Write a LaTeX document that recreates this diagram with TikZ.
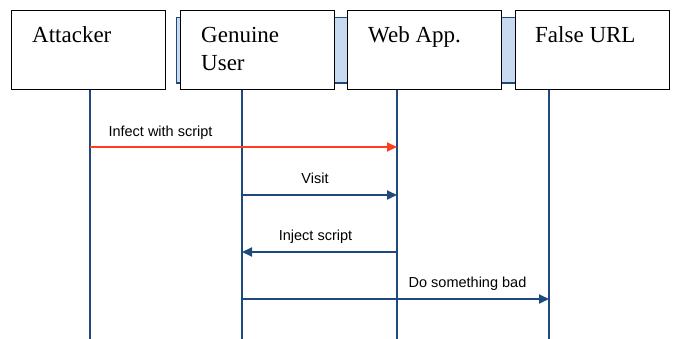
\documentclass[tikz,border=0pt]{standalone}
\usepackage{fontspec}
\setmainfont{Liberation Serif}
\newfontfamily\lblfont{Liberation Sans}
\usetikzlibrary{arrows.meta}
\definecolor{navy}{RGB}{31,73,125}
\definecolor{bandfill}{RGB}{200,218,240}
\definecolor{msgred}{RGB}{255,60,30}
\tikzset{
  actorbox/.style={draw=black, line width=1.4pt, fill=white, minimum width=154pt, minimum height=79pt, inner sep=0pt, anchor=north west},
  actortext/.style={font=\fontsize{23}{28}\selectfont, anchor=base west, inner sep=0pt, align=left},
  lifeline/.style={draw=navy, line width=2pt},
  msg/.style={draw=navy, line width=1.8pt, -{Triangle[length=10pt,width=9pt]}},
  msgr/.style={draw=msgred, line width=1.8pt, -{Triangle[length=10pt,width=9pt]}},
  msglabel/.style={font=\lblfont\fontsize{14.5}{16}\selectfont, anchor=base, inner sep=0pt}
}
\begin{document}
\begin{tikzpicture}[x=1pt,y=-1pt]
\useasboundingbox (0,0) rectangle (673,339);
% background band
\draw[fill=bandfill, draw=navy, line width=1.5pt] (176.5,17.5) rectangle (640,83);
% lifelines
\coordinate (la) at (90,339);
\coordinate (lu) at (242,339);
\coordinate (lw) at (397,339);
\coordinate (lf) at (549,339);
% boxes
\node[actorbox] (att) at (11,10) {};
\node[actorbox] (usr) at (180,10) {};
\node[actorbox] (web) at (347,10) {};
\node[actorbox] (url) at (515,10) {};
\draw[lifeline] (att.south -| la) -- (la);
\draw[lifeline] (usr.south -| lu) -- (lu);
\draw[lifeline] (web.south -| lw) -- (lw);
\draw[lifeline] (url.south -| lf) -- (lf);
\node[actortext] (attT) at (32,43) {Attacker};
\node[actortext] (usrT) at (201,43) {Genuine};
\node[actortext] (usrT2) at (201,71) {User};
\node[actortext] (webT) at (368,43) {Web App.};
\node[actortext] (urlT) at (535,43) {False URL};
% message end points
\coordinate (m1s) at (90,147);  \coordinate (m1e) at (397,147);
\coordinate (m2s) at (242,195); \coordinate (m2e) at (397,195);
\coordinate (m3s) at (397,252); \coordinate (m3e) at (242,252);
\coordinate (m4s) at (242,299); \coordinate (m4e) at (549,299);
\draw[msgr] (m1s) -- (m1e);
\draw[msg] (m2s) -- (m2e);
\draw[msg] (m3s) -- (m3e);
\draw[msg] (m4s) -- (m4e);
\node[msglabel] (l1) at (160.5,137) {Infect with script};
\node[msglabel] (l2) at (315,184) {Visit};
\node[msglabel] (l3) at (315.5,241) {Inject script};
\node[msglabel] (l4) at (467.5,288) {Do something bad};
\end{tikzpicture}
\end{document}
